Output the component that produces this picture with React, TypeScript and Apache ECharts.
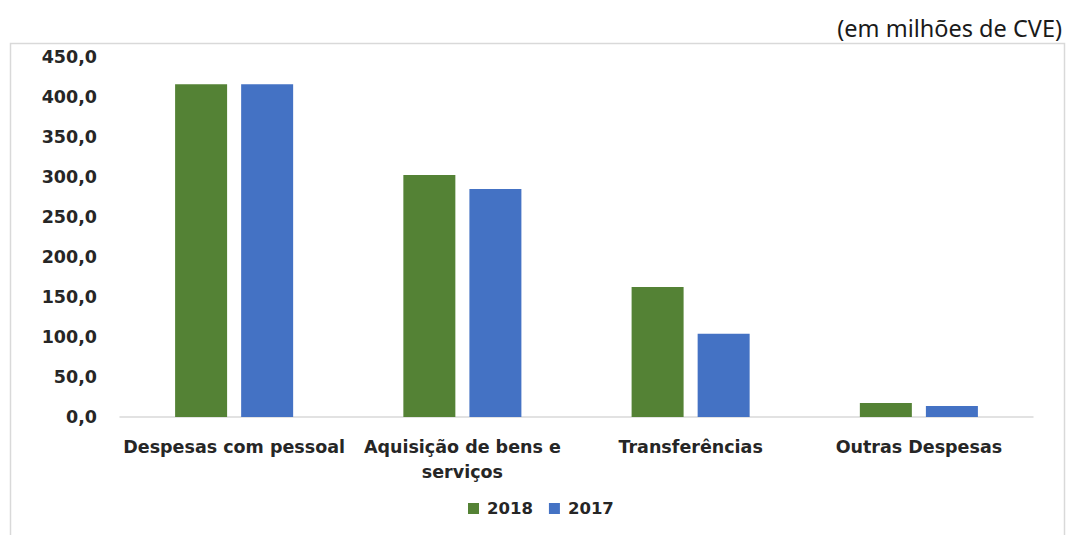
import React, { useEffect, useRef } from "react";
import * as echarts from "echarts";

const categories = [
  "Despesas com pessoal",
  "Aquisição de bens e\nserviços",
  "Transferências",
  "Outras Despesas",
];
const values2018 = [416.0, 302.5, 162.5, 17.5];
const values2017 = [416.0, 285.0, 104.0, 13.7];
const seriesNames = ["2018", "2017"];
const unitNote = "(em milhões de CVE)";

export default function App() {
  const ref = useRef<HTMLDivElement>(null);
  useEffect(() => {
    const chart = echarts.init(ref.current!, null, { renderer: "svg" });
    const font = "DejaVu Sans";
    chart.setOption({
      animation: false,
      backgroundColor: "#ffffff",
      graphic: [
        {
          type: "rect",
          shape: { x: 10.5, y: 43.5, width: 1054, height: 500 },
          style: { fill: "none", stroke: "#d9d9d9", lineWidth: 1.5 },
          z: -1,
        },
        {
          type: "text",
          right: 5,
          top: 16,
          style: {
            text: unitNote,
            font: "23.5px 'Noto Sans'",
            fill: "#1a1a1a",
          },
        },
      ],
      grid: { left: 120, right: 34, top: 57, bottom: 118 },
      legend: {
        data: seriesNames,
        bottom: 13,
        left: 463,
        itemWidth: 11,
        itemHeight: 11,
        itemGap: 16,
        icon: "rect",
        textStyle: {
          fontFamily: font,
          fontWeight: "bold",
          fontSize: 16.5,
          color: "#262626",
          padding: [0, 0, 0, 3],
        },
      },
      xAxis: {
        type: "category",
        data: categories,
        axisLine: { lineStyle: { color: "#d9d9d9", width: 1.5 } },
        axisTick: { show: false },
        axisLabel: {
          interval: 0,
          margin: 17,
          fontFamily: font,
          fontWeight: "bold",
          fontSize: 17.5,
          lineHeight: 25,
          color: "#262626",
        },
      },
      yAxis: {
        type: "value",
        min: 0,
        max: 450,
        interval: 50,
        splitLine: { show: false },
        axisLine: { show: false },
        axisTick: { show: false },
        axisLabel: {
          margin: 23,
          fontFamily: font,
          fontWeight: "bold",
          fontSize: 17.5,
          color: "#262626",
          formatter: (v: number) => v.toFixed(1).replace(".", ","),
        },
      },
      series: [
        {
          name: seriesNames[0],
          type: "bar",
          data: values2018,
          barWidth: 52,
          barGap: "27%",
          itemStyle: { color: "#548235" },
        },
        {
          name: seriesNames[1],
          type: "bar",
          data: values2017,
          barWidth: 52,
          itemStyle: { color: "#4472c4" },
        },
      ],
    });
    return () => chart.dispose();
  }, []);
  return (
    <div
      ref={ref}
      style={{ position: "absolute", left: 0, top: 0, width: 1067, height: 535 }}
    />
  );
}
